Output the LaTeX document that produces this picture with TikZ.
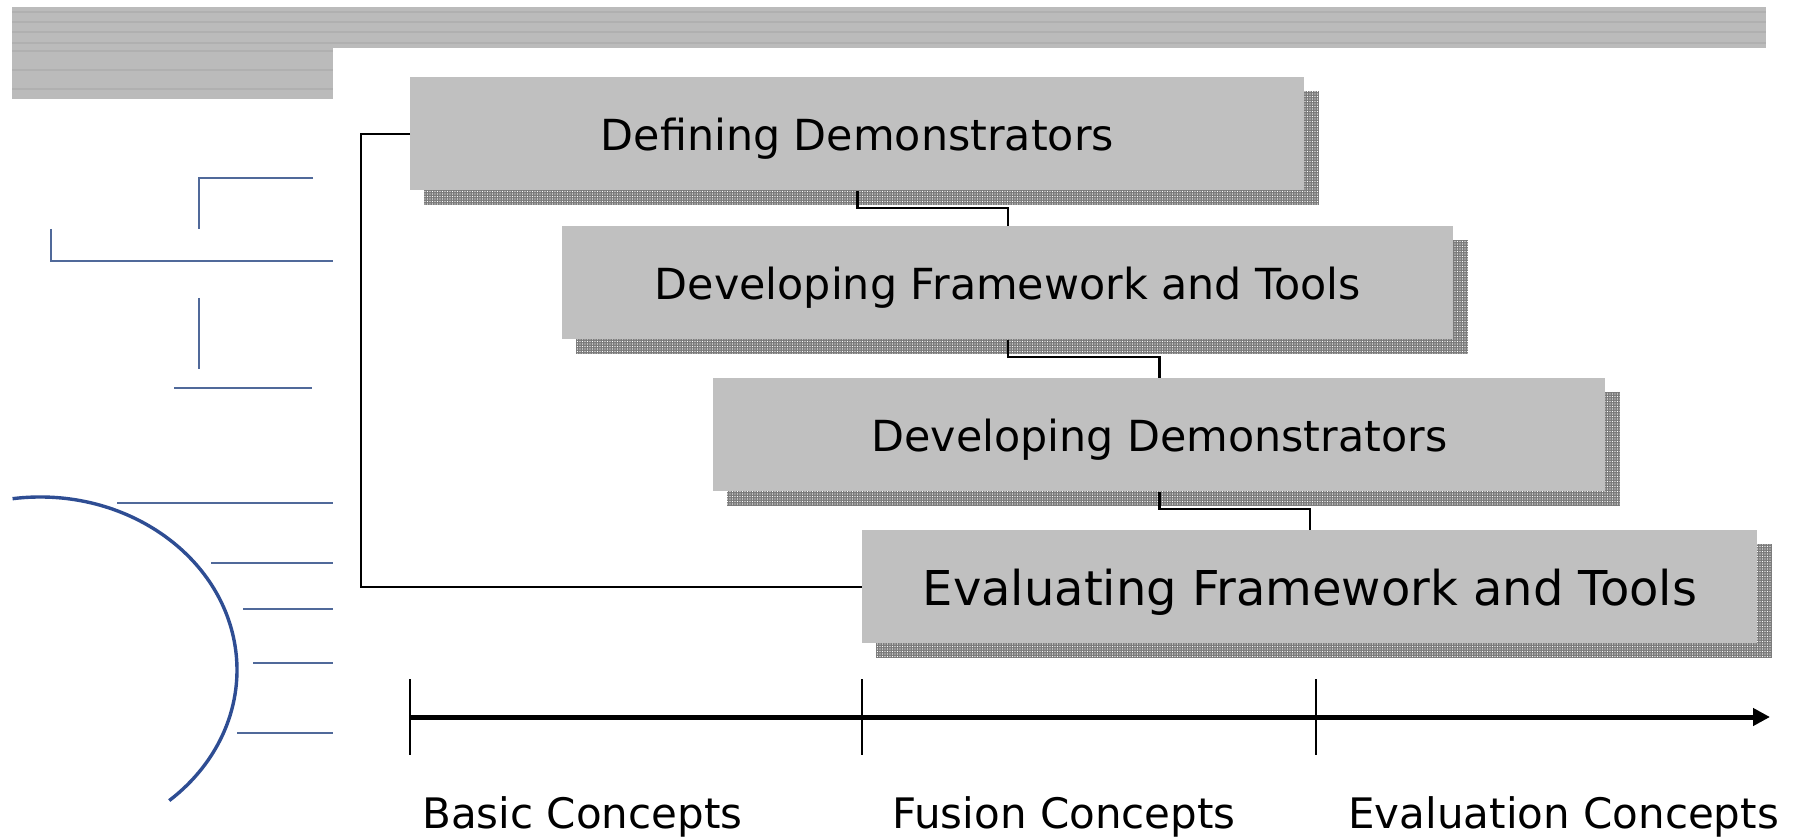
\documentclass[tikz,border=0pt]{standalone}
\usepackage{fontspec}
\setmainfont{DejaVu Sans}
\usetikzlibrary{arrows.meta,backgrounds,patterns.meta,calc}
\definecolor{boxgray}{HTML}{C0C0C0}
\definecolor{bandgray}{HTML}{BBBBBB}
\definecolor{stripegray}{HTML}{B0B0B0}
\definecolor{shadowgray}{HTML}{7A7A7A}
\definecolor{decoblue}{HTML}{2E4D93}
\definecolor{lineblue}{HTML}{50699A}
\begin{document}
\begin{tikzpicture}[x=0.5pt,y=-0.5pt,
  stagebox/.style={fill=boxgray, anchor=north west, inner sep=0pt, minimum height=56.5pt,
    text depth=0pt, font=\fontsize{21.4}{24}\selectfont},
  bigstage/.style={stagebox, font=\fontsize{24}{28}\selectfont},
  conn/.style={draw=black, line width=1.25pt},
  deco/.style={draw=lineblue, line width=1pt},
  arcdeco/.style={draw=decoblue, line width=1.7pt},
  axisline/.style={draw=black, line width=2.5pt, -{Triangle[length=8.5pt,width=8.5pt]}},
  tickline/.style={draw=black, line width=1.1pt},
  phase/.style={anchor=base west, inner sep=0pt, font=\fontsize{21}{24}\selectfont},
  band/.style={fill=bandgray},
  stripe/.style={draw=stripegray, line width=0.6pt}]
\useasboundingbox (0,0) rectangle (1798,839);

% header band
\fill[band] (12,7) rectangle (1766,48);
\fill[band] (12,7) rectangle (333,99);
\foreach \yy in {12,22,32,43} \draw[stripe] (12,\yy) -- (1766,\yy);
\foreach \yy in {51,70,89} \draw[stripe] (12,\yy) -- (333,\yy);

% left decoration
\draw[deco] (313,178) -- (199,178) -- (199,229);
\draw[deco] (51,229) -- (51,261) -- (333,261);
\draw[deco] (199,298) -- (199,369);
\draw[deco] (174,388) -- (312,388);
\draw[arcdeco] (40,670) ++(-98:197 and 173) arc[start angle=-98, end angle=49, x radius=197, y radius=173];
\draw[deco] (117,503) -- (333,503);
\draw[deco] (211,563) -- (333,563);
\draw[deco] (243,609) -- (333,609);
\draw[deco] (253,663) -- (333,663);
\draw[deco] (237,733) -- (333,733);

% stage boxes
\node[stagebox, minimum width=447pt] (b1) at (410,77) {Defining Demonstrators};
\node[stagebox, minimum width=445.5pt] (b2) at (562,226) {Developing Framework and Tools};
\node[stagebox, minimum width=446pt] (b3) at (713,378) {Developing Demonstrators};
\node[bigstage, minimum width=447.5pt] (b4) at (862,530) {Evaluating Framework and Tools};

% shadows
\begin{scope}[on background layer]
\foreach \b in {b1,b2,b3,b4} {
  \fill[shadowgray] ($(\b.north west)+(14,14)$) rectangle ($(\b.south east)+(14,14)$);
  \fill[pattern={Dots[distance=1.25pt,radius=0.32pt]}, pattern color=white]
    ($(\b.north west)+(14,14)$) rectangle ($(\b.south east)+(14,14)$);
}
\end{scope}

% connectors
\draw[conn] (b1.west) -- ++(-49,0) |- (b4.west);
\draw[conn] (b1.south) -- ++(0,17) -| (b2.north);
\draw[conn] (b2.south) -- ++(0,17) -| (b3.north);
\draw[conn] (b3.south) -- ++(0,17) -| (b4.north);

% time axis
\coordinate (ax0) at (410,717);
\coordinate (ax1) at (1770,717);
\draw[axisline] (ax0) -- (ax1);
\coordinate (t1a) at (410,679); \coordinate (t1b) at (410,755);
\coordinate (t2a) at (862,679); \coordinate (t2b) at (862,755);
\coordinate (t3a) at (1316,679); \coordinate (t3b) at (1316,755);
\draw[tickline] (t1a) -- (t1b);
\draw[tickline] (t2a) -- (t2b);
\draw[tickline] (t3a) -- (t3b);

\node[phase] (p1) at (422,828) {Basic Concepts};
\node[phase] (p2) at (892,828) {Fusion Concepts};
\node[phase] (p3) at (1348,828) {Evaluation Concepts};
\end{tikzpicture}
\end{document}
